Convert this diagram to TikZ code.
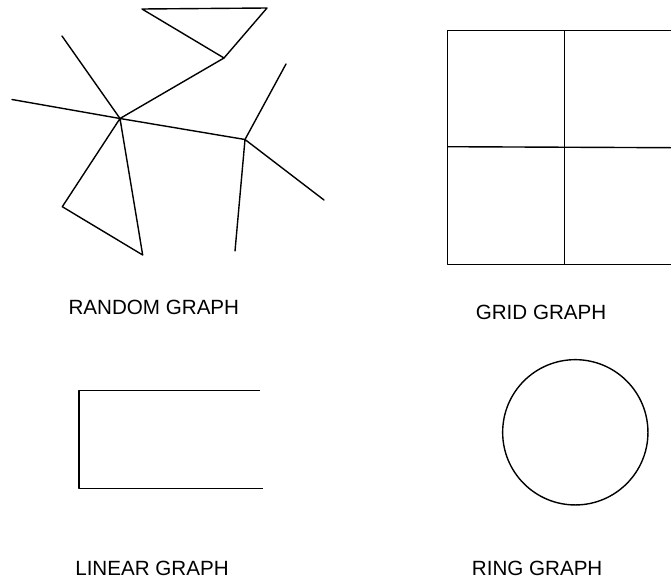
\documentclass[tikz,border=0pt]{standalone}
\usepackage{fontspec}
\setmainfont{Liberation Sans}
\begin{document}
\begin{tikzpicture}[x=1pt,y=-1pt,
  edge/.style={line width=1.4pt,line join=round,line cap=round},
  lbl/.style={anchor=base west,inner sep=0pt,font=\fontsize{20.6}{24}\selectfont}]
\useasboundingbox (0,0) rectangle (671,581);
% random graph vertices
\coordinate (a) at (142,9);
\coordinate (b) at (267,8);
\coordinate (c) at (224,58);
\coordinate (h) at (120,118.5);
\coordinate (n1) at (62,36);
\coordinate (n2) at (12,99.5);
\coordinate (p) at (245,139.5);
\coordinate (t1) at (62.3,206.7);
\coordinate (t2) at (142.7,255);
\coordinate (q1) at (286,64);
\coordinate (q2) at (324,200);
\coordinate (q3) at (235,251);
\draw[edge] (a) -- (b) -- (c) -- cycle;
\draw[edge] (c) -- (h);
\draw[edge] (h) -- (n1);
\draw[edge] (h) -- (n2);
\draw[edge] (h) -- (p);
\draw[edge] (h) -- (t1) -- (t2) -- (h);
\draw[edge] (p) -- (q1);
\draw[edge] (p) -- (q2);
\draw[edge] (p) -- (q3);
% grid graph
\coordinate (g1) at (447.3,30.7);
\coordinate (g2) at (671,30.7);
\coordinate (g3) at (447.3,146.7);
\coordinate (g4) at (671,147.7);
\coordinate (g5) at (447.3,264.3);
\coordinate (g6) at (671,264.3);
\coordinate (g7) at (564.7,30.7);
\coordinate (g8) at (564.7,264.3);
\draw[edge,line cap=butt] (g2) -- (g1) -- (g5) -- (g6);
\draw[edge,line cap=butt] (g3) -- (g4);
\draw[edge] (g7) -- (g8);
% linear graph
\coordinate (l1) at (260,390.7);
\coordinate (l2) at (79,390.7);
\coordinate (l3) at (79,488.7);
\coordinate (l4) at (263.3,488.7);
\draw[edge,line cap=butt] (l1) -- (l2) -- (l3) -- (l4);
% ring graph
\node[draw,circle,line width=1.4pt,minimum size=145.3pt,inner sep=0pt] (ring) at (575.3,432.3) {};
% labels
\node[lbl] (rl) at (68.4,314.5) {RANDOM GRAPH};
\node[lbl] (gl) at (475.6,319.5) {GRID GRAPH};
\node[lbl] (ll) at (75.1,575) {LINEAR GRAPH};
\node[lbl] (ril) at (471.7,575) {RING GRAPH};
\end{tikzpicture}
\end{document}
